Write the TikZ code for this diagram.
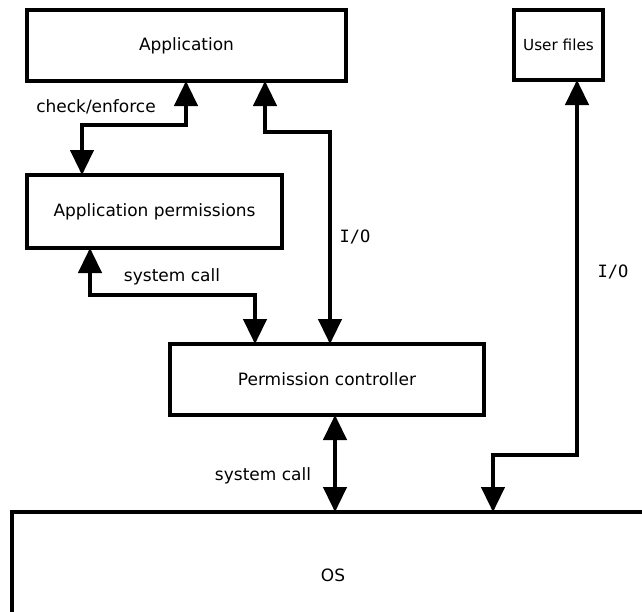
\documentclass[tikz,border=0pt]{standalone}
\usepackage{fontspec}
\setmainfont{DejaVu Sans}
\newfontfamily\iofont{DejaVu Sans Mono}
\usetikzlibrary{arrows.meta}
\tikzset{
  block/.style 2 args={draw, line width=0.105cm, rectangle, inner sep=0pt, outer sep=0pt,
    minimum width=#1*0.03cm, minimum height=#2*0.03cm,
    font=\fontsize{14.5}{16}\selectfont},
  link/.style={line width=0.1cm, {Triangle[length=0.75cm,width=0.7cm]}-{Triangle[length=0.75cm,width=0.7cm]}},
  tag/.style={font=\fontsize{14.5}{16}\selectfont, inner sep=0pt},
  iotag/.style={font=\iofont\fontsize{14.5}{16}\selectfont, inner sep=0pt}
}
\begin{document}
\begin{tikzpicture}[x=0.03cm, y=-0.03cm]
\clip (0,0) rectangle (642,611);
\fill[white] (0,0) rectangle (642,611);

% boxes
\node[block={319}{71}] (app) at (186.5,45.5) {Application};
\node[block={89}{70}, font=\fontsize{13}{15}\selectfont] (files) at (558.5,45) {User files};
\node[block={255}{73}] (perm) at (154.5,211.5) {Application permissions};
\node[block={314}{71}] (ctrl) at (327,379.5) {Permission controller};
\node[block={642}{126}] (os) at (333,575) {OS};

% x positions of the vertical connector legs
\coordinate (c1) at (186,0);
\coordinate (c2) at (82,0);
\coordinate (c3) at (265,0);
\coordinate (c4) at (330,0);
\coordinate (c5) at (90,0);
\coordinate (c6) at (255,0);
\coordinate (c7) at (335,0);
\coordinate (c8) at (577,0);
\coordinate (c9) at (493,0);

% connectors
\draw[link] (app.south -| c1) -- ++(0,44) -| (perm.north -| c2);
\draw[link] (app.south -| c3) -- ++(0,51) -| (ctrl.north -| c4);
\draw[link] (perm.south -| c5) -- ++(0,47) -| (ctrl.north -| c6);
\draw[link] (ctrl.south -| c7) -- (os.north -| c7);
\draw[link] (files.south -| c8) -- ++(0,375) -| (os.north -| c9);

% connector labels
\node[tag] (l1) at (96,107) {check/enforce};
\node[iotag] (l2) at (355,237) {I/O};
\node[tag] (l3) at (172,277) {system call};
\node[tag] (l4) at (263,476) {system call};
\node[iotag] (l5) at (613,272) {I/O};
\end{tikzpicture}
\end{document}
